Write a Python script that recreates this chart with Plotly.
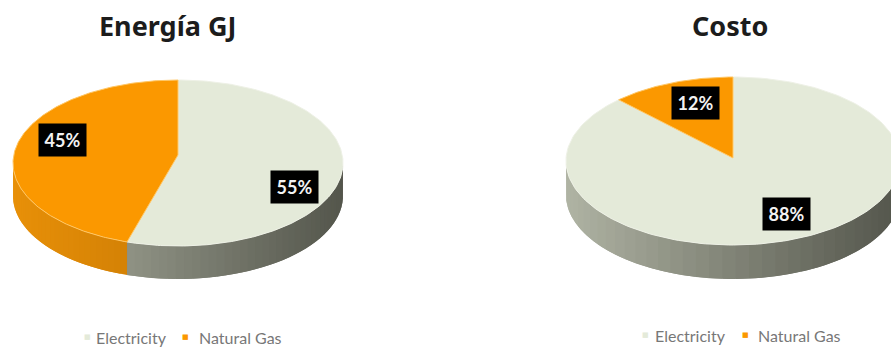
import numpy as np
import plotly.graph_objects as go

# Data
categories = ["Electricity", "Natural Gas"]
energia_values = [55, 45]
costo_values = [88, 12]
titles = ["Energía GJ", "Costo"]

# Styling
W, H = 891, 347
FONT = "Lato"
TOP_COLORS = ["#e4ead9", "#fb9800"]
EDGE_COLORS = ["#eef1e6", "#ffc766"]
SIDE_RAMPS = [((176, 180, 164), (84, 86, 76)), ((232, 144, 8), (176, 104, 0))]

# Pixel geometry of each disc: centre, radii, wall height, apex lift, panel span
PIES = [
    dict(cx=178, cy=163, rx=165, ry=83, depth=33, lift=8, span=(0, 445),
         xa="x", ya="y", values=energia_values),
    dict(cx=733, cy=161, rx=167, ry=84, depth=34, lift=3, span=(445, 891),
         xa="x2", ya="y2", values=costo_values),
]
LABEL_CENTERS = [[(294.5, 186.5), (62.5, 140)], [(786, 214), (695, 103)]]


def mix(ramp, t):
    a, b = ramp
    c = [int(round(a[i] + (b[i] - a[i]) * t)) for i in range(3)]
    return f"rgb({c[0]},{c[1]},{c[2]})"


fig = go.Figure()

for pie in PIES:
    total = sum(pie["values"])
    fractions = np.cumsum([0] + pie["values"]) / total
    # Clockwise from twelve o'clock, in unit-ellipse coordinates
    angles = np.pi / 2 - 2 * np.pi * fractions
    wall = pie["depth"] / pie["ry"]
    lift = pie["lift"] / pie["ry"]
    common = dict(xaxis=pie["xa"], yaxis=pie["ya"], showlegend=False, hoverinfo="skip")

    # Outer wall: shaded strips on the front rim, each running under the next
    # one so no seams show between them
    for k, name in enumerate(categories):
        th = np.linspace(angles[k], angles[k + 1], 70)
        th = th[np.sin(th) <= 0.02]
        for i in range(len(th) - 1):
            a0, a1 = th[i], th[min(i + 2, len(th) - 1)]
            xs = np.cos(np.linspace(a0, a1, 5))
            ys = np.sin(np.linspace(a0, a1, 5))
            col = mix(SIDE_RAMPS[k], (np.cos(th[i]) + 1) / 2)
            fig.add_trace(go.Scatter(
                x=np.r_[xs, xs[::-1], xs[0]],
                y=np.r_[ys, ys[::-1] - wall, ys[0]],
                mode="lines", fill="toself", fillcolor=col,
                line=dict(width=0), **common))

    # Top faces
    for k, name in enumerate(categories):
        th = np.linspace(angles[k], angles[k + 1], 200)
        fig.add_trace(go.Scatter(
            x=np.r_[0, np.cos(th), 0],
            y=np.r_[lift, np.sin(th), lift],
            mode="lines", fill="toself", fillcolor=TOP_COLORS[k],
            line=dict(color=EDGE_COLORS[k], width=1), name=name, **common))

layout_axes = {}
for i, pie in enumerate(PIES):
    suffix = "" if i == 0 else "2"
    left, right = pie["span"]
    layout_axes[f"xaxis{suffix}"] = dict(
        domain=[left / W, right / W], visible=False, fixedrange=True,
        range=[(left - pie["cx"]) / pie["rx"], (right - pie["cx"]) / pie["rx"]])
    layout_axes[f"yaxis{suffix}"] = dict(
        domain=[0, 1], visible=False, fixedrange=True,
        range=[(pie["cy"] - H) / pie["ry"], pie["cy"] / pie["ry"]])


def px_note(x, y, text, xanchor="center", **kw):
    return dict(x=x / W, y=1 - y / H, xref="paper", yref="paper", text=text,
                showarrow=False, xanchor=xanchor, yanchor="middle", **kw)


notes = []
# Percentage tags
for pie, centers in zip(PIES, LABEL_CENTERS):
    total = sum(pie["values"])
    for value, (lx, ly) in zip(pie["values"], centers):
        notes.append(px_note(
            lx, ly, f"<b>{round(100 * value / total)}%</b>",
            font=dict(family=FONT, size=18, color="#f2f2f2"),
            bgcolor="#000000", borderpad=5, width=37, height=22, align="center"))

# Chart titles
for title, x in zip(titles, (167.5, 729.5)):
    notes.append(px_note(x, 25.5, f"<b>{title}</b>",
                         font=dict(family="Noto Sans", size=27, color="#1c1c1c")))

# Keys under each disc
for mx0, tx0, mx1, tx1, ky in ((87, 94, 185, 197, 337), (645, 653, 745, 756, 335)):
    for mx, tx, name, col in ((mx0, tx0, categories[0], TOP_COLORS[0]),
                              (mx1, tx1, categories[1], TOP_COLORS[1])):
        notes.append(px_note(mx, ky, "■", font=dict(family="DejaVu Sans", size=7, color=col)))
        notes.append(px_note(tx, ky, name, xanchor="left",
                             font=dict(family=FONT, size=16, color="#777777")))

fig.update_layout(
    width=W, height=H, margin=dict(l=0, r=0, t=0, b=0),
    paper_bgcolor="white", plot_bgcolor="white",
    showlegend=False, annotations=notes, **layout_axes)

fig.write_html("out.html", config={"displayModeBar": False})
